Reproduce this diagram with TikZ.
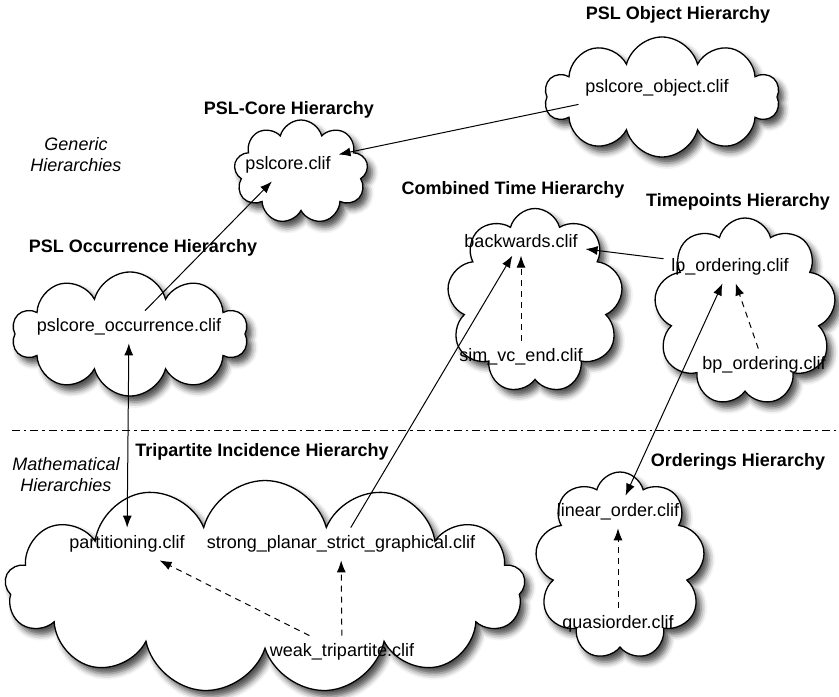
\documentclass[tikz,border=0pt]{standalone}
\usepackage{fontspec}
\setmainfont{Liberation Sans}
\usetikzlibrary{shapes.symbols,shadows.blur,arrows.meta}
\begin{document}
\begin{tikzpicture}[x=0.5pt, y=-0.5pt, font=\fontsize{9}{10.5}\selectfont,
  blob/.style={cloud, cloud puffs=#1, cloud ignores aspect, draw, line width=0.65pt, fill=white,
    blur shadow={shadow xshift=2.5pt, shadow yshift=-3pt, shadow blur radius=3pt, shadow opacity=70}},
  clif/.style={inner sep=1pt, outer sep=3pt},
  hierlabel/.style={font=\fontsize{9}{10.5}\selectfont\bfseries},
  grouplabel/.style={font=\fontsize{9}{10.5}\selectfont\itshape, align=center},
  solidarr/.style={line width=0.5pt, -{Latex[length=6pt,width=4.5pt]}},
  bothways/.style={solidarr, {Latex[length=6pt,width=4.5pt]}-{Latex[length=6pt,width=4.5pt]}},
  dasharr/.style={solidarr, dash pattern=on 3pt off 2.5pt}]
    \useasboundingbox (0,0) rectangle (839,696);
    % clouds
    \node[blob=10, minimum width=117.5pt, minimum height=60pt] (objc) at (662,97) {};
    \node[blob=9, minimum width=67pt, minimum height=52pt] (corec) at (301,172) {};
    \node[blob=10, minimum width=118pt, minimum height=62pt] (occc) at (130,334) {};
    \node[blob=9, minimum width=88pt, minimum height=92.5pt] (timec) at (535,301) {};
    \node[blob=9, minimum width=91pt, minimum height=94pt] (tpc) at (745,312) {};
    \node[blob=13, minimum width=260pt, minimum height=106.5pt] (tric) at (265,587) {};
    \node[blob=9, minimum width=85pt, minimum height=94pt] (ordc) at (620,566) {};
    % hierarchy titles
    \node[hierlabel] (tobj) at (678,15) {PSL Object Hierarchy};
    \node[hierlabel] (tcore) at (289,110) {PSL-Core Hierarchy};
    \node[hierlabel] (tocc) at (143,248) {PSL Occurrence Hierarchy};
    \node[hierlabel] (ttime) at (513,190) {Combined Time Hierarchy};
    \node[hierlabel] (ttp) at (738,202) {Timepoints Hierarchy};
    \node[hierlabel] (ttri) at (262,452) {Tripartite Incidence Hierarchy};
    \node[hierlabel] (tord) at (738,462) {Orderings Hierarchy};
    \node[grouplabel] (gen) at (76,155) {Generic\\Hierarchies};
    \node[grouplabel] (math) at (66,475) {Mathematical\\Hierarchies};
    % files
    \node[clif] (obj) at (657,88) {pslcore\_object.clif};
    \node[clif] (core) at (288,165) {pslcore.clif};
    \node[clif] (occ) at (129,327) {pslcore\_occurrence.clif};
    \node[clif] (back) at (521,241) {backwards.clif};
    \node[clif] (sim) at (521,357) {sim\_vc\_end.clif};
    \node[clif] (lp) at (730,267) {lp\_ordering.clif};
    \node[clif] (bp) at (764,365) {bp\_ordering.clif};
    \node[clif] (part) at (127,544) {partitioning.clif};
    \node[clif] (spg) at (341,544) {strong\_planar\_strict\_graphical.clif};
    \node[clif] (weak) at (342,652) {weak\_tripartite.clif};
    \node[clif] (lin) at (618,512) {linear\_order.clif};
    \node[clif] (quasi) at (618,624) {quasiorder.clif};
    % divider
    \coordinate (dl) at (12,430); \coordinate (dr) at (836,430);
    \draw[line width=0.5pt, dash pattern=on 4pt off 2pt on 1.2pt off 2pt] (dl) -- (dr);
    % imports
    \foreach \a/\b in {obj/core, occ/core, spg/back, lp/back} \draw[solidarr] (\a) -- (\b);
    \foreach \a/\b in {occ/part, lp/lin} \draw[bothways] (\a) -- (\b);
    \foreach \a/\b in {sim/back, bp/lp, weak/part, weak/spg, quasi/lin} \draw[dasharr] (\a) -- (\b);
\end{tikzpicture}
\end{document}
